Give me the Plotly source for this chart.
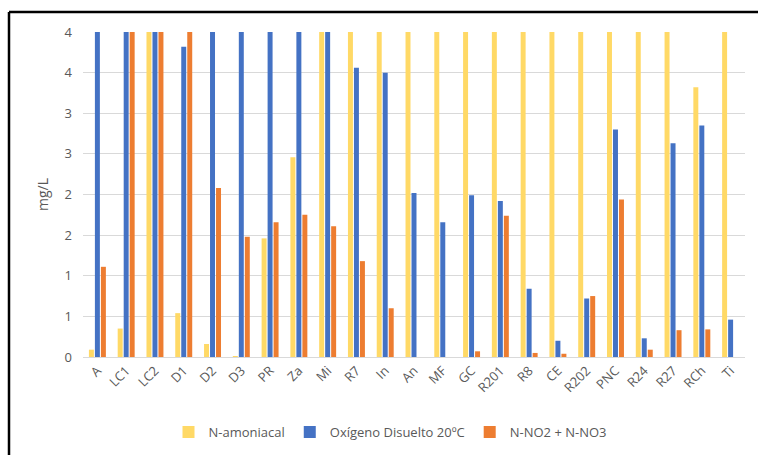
import plotly.graph_objects as go

categories = ["A", "LC1", "LC2", "D1", "D2", "D3", "PR", "Za", "Mi", "R7", "In", "An",
              "MF", "GC", "R201", "R8", "CE", "R202", "PNC", "R24", "R27", "RCh", "Ti"]
n_amoniacal = [0.09, 0.35, 5.2, 0.54, 0.16, 0.01, 1.46, 2.46, 4.6, 4.8, 5.0, 4.7,
               4.9, 5.1, 4.5, 4.8, 6.0, 5.5, 4.9, 6.2, 5.3, 3.32, 4.4]
oxigeno = [6.5, 6.8, 7.0, 3.82, 6.2, 6.0, 5.9, 6.3, 5.1, 3.56, 3.50, 2.02,
           1.66, 1.99, 1.92, 0.84, 0.20, 0.72, 2.80, 0.23, 2.63, 2.85, 0.46]
nitratos = [1.11, 4.6, 4.9, 4.3, 2.08, 1.48, 1.66, 1.75, 1.61, 1.18, 0.60, 0.0,
            0.0, 0.07, 1.74, 0.05, 0.04, 0.75, 1.94, 0.09, 0.33, 0.34, 0.0]
series_names = ["N-amoniacal", "Oxígeno Disuelto 20ºC", "N-NO2 + N-NO3"]
colors = ["#FFD966", "#4472C4", "#ED7D31"]
ytick_vals = [0, 0.5, 1, 1.5, 2, 2.5, 3, 3.5, 4]
ytick_text = ["0", "1", "1", "2", "2", "3", "3", "4", "4"]

FONT = "'Open Sans', 'Noto Sans', sans-serif"

fig = go.Figure()
for name, vals, col in zip(series_names, [n_amoniacal, oxigeno, nitratos], colors):
    fig.add_trace(go.Bar(x=categories, y=vals, name=name, marker_color=col,
                         marker_line_width=0))

W, H = 758, 455
L, R, T, B = 83, 13, 32, 98
pw, ph = W - L - R, H - T - B

def px(x):
    return (x - L) / pw

def py(y):
    return (H - B - y) / ph

fig.update_layout(
    width=W, height=H,
    margin=dict(l=L, r=R, t=T, b=B, autoexpand=False),
    paper_bgcolor="white", plot_bgcolor="white",
    barmode="group", bargap=0.375, bargroupgap=0.17,
    font=dict(family=FONT, size=13, color="#595959"),
    showlegend=True,
    legend=dict(orientation="h", x=px(390), xanchor="center", y=py(432), yanchor="middle",
                font=dict(size=13, color="#595959"), itemwidth=30,
                traceorder="normal"),
    xaxis=dict(tickangle=-45, showgrid=False, showline=True, linecolor="#D9D9D9",
               linewidth=1, ticks="", automargin=False,
               tickfont=dict(size=13, color="#595959")),
    yaxis=dict(range=[0, 4], tickvals=ytick_vals, ticktext=ytick_text,
               showgrid=True, gridcolor="#D9D9D9", gridwidth=1, zeroline=False,
               showline=False, ticks="", ticklabelstandoff=10, automargin=False,
               tickfont=dict(size=13, color="#595959"),
               title=dict(text="mg/L", font=dict(size=14, color="#595959"), standoff=12)),
    shapes=[
        dict(type="line", xref="paper", yref="paper", x0=px(9), x1=px(760), y0=py(12), y1=py(12),
             line=dict(color="black", width=2.5)),
        dict(type="line", xref="paper", yref="paper", x0=px(9), x1=px(9), y0=py(12), y1=py(457),
             line=dict(color="black", width=2.5)),
    ],
)

fig.write_html("out.html", config={"displayModeBar": False},
               post_script="document.body.style.margin='0';document.body.style.overflow='hidden';")
